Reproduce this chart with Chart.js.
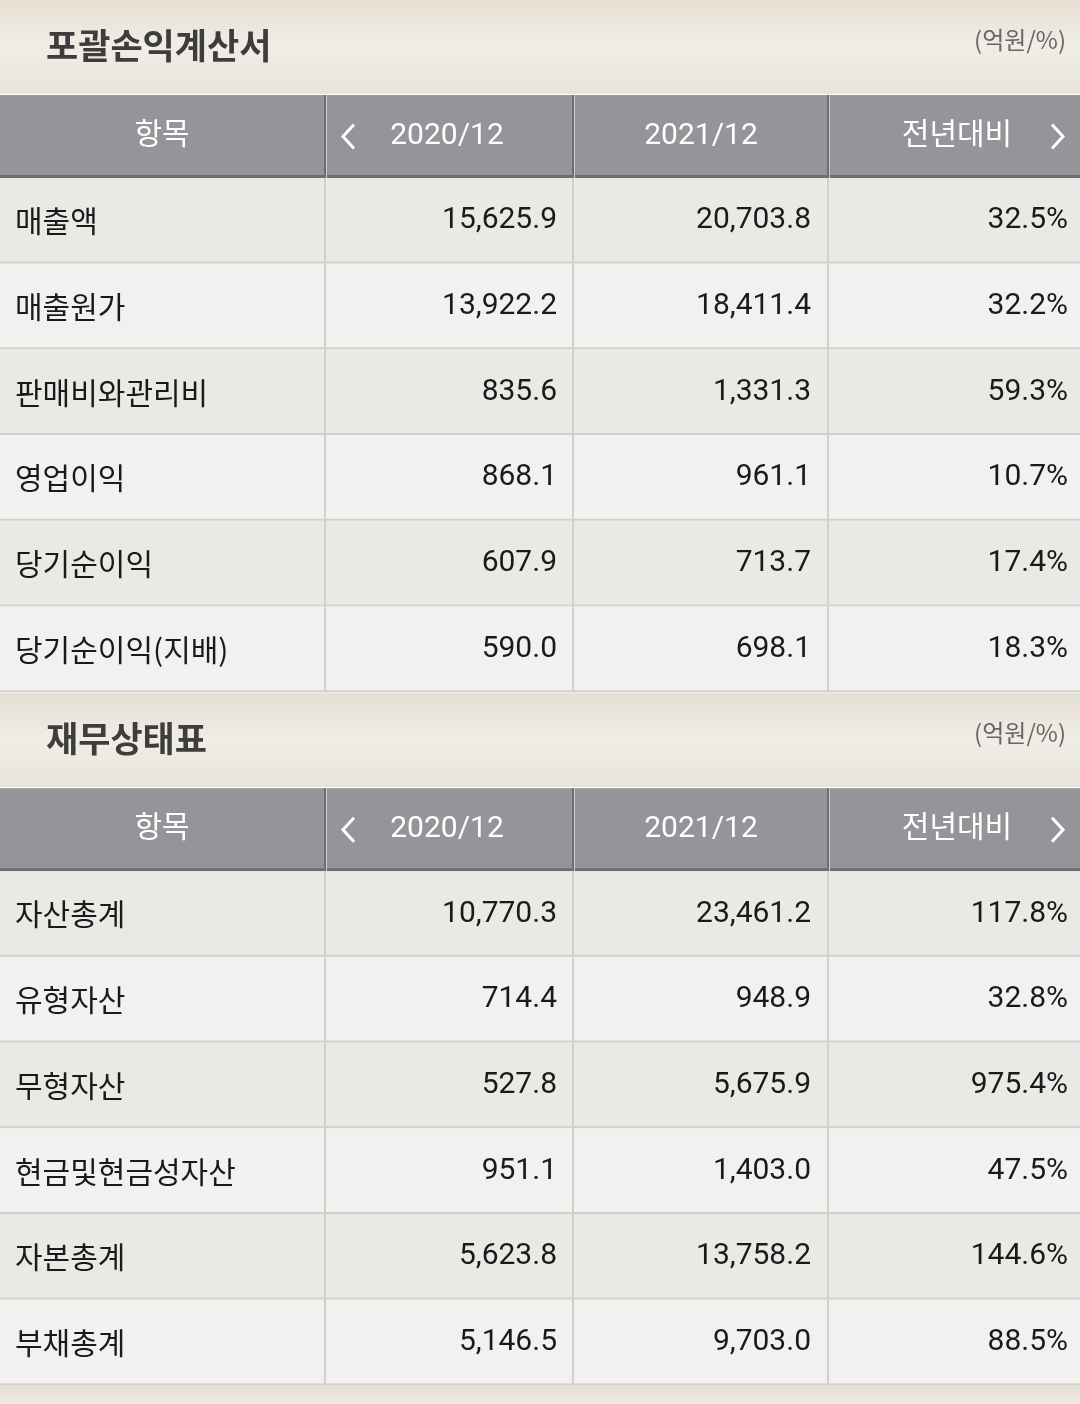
<!DOCTYPE html>
<html>
<head>
<meta charset="utf-8">
<script src="https://cdn.jsdelivr.net/npm/chart.js@4.4.1/dist/chart.umd.min.js"></script>
<style>
  html, body { margin: 0; padding: 0; background: #f2f1ef; }
  #wrap { width: 1080px; height: 1404px; }
</style>
</head>
<body>
<div id="wrap"><canvas id="tableChart" width="1080" height="1404"></canvas></div>
<script>
// 포괄손익계산서
const incomeTitle = '포괄손익계산서';
const incomeItems = ['매출액', '매출원가', '판매비와관리비', '영업이익', '당기순이익', '당기순이익(지배)'];
const income2020 = ['15,625.9', '13,922.2', '835.6', '868.1', '607.9', '590.0'];
const income2021 = ['20,703.8', '18,411.4', '1,331.3', '961.1', '713.7', '698.1'];
const incomeChange = ['32.5%', '32.2%', '59.3%', '10.7%', '17.4%', '18.3%'];

// 재무상태표
const balanceTitle = '재무상태표';
const balanceItems = ['자산총계', '유형자산', '무형자산', '현금및현금성자산', '자본총계', '부채총계'];
const balance2020 = ['10,770.3', '714.4', '527.8', '951.1', '5,623.8', '5,146.5'];
const balance2021 = ['23,461.2', '948.9', '5,675.9', '1,403.0', '13,758.2', '9,703.0'];
const balanceChange = ['117.8%', '32.8%', '975.4%', '47.5%', '144.6%', '88.5%'];

const headers = ['항목', '2020/12', '2021/12', '전년대비'];
const unitLabel = '(억원/%)';

const FONT = "Roboto, 'Noto Sans CJK KR', sans-serif";
const KFONT = "'Noto Sans CJK KR', Roboto, sans-serif";
const colEdges = [0, 326, 574, 829, 1080];
const TITLE_H = 94, HEAD_H = 83, ROW_H = 85.7;

function drawSection(ctx, sx, sy, top, title, items, a, b, c) {
  const X = v => sx.getPixelForValue(v);
  const Y = v => sy.getPixelForValue(v);
  // title band
  let g = ctx.createLinearGradient(0, Y(top), 0, Y(top + TITLE_H));
  g.addColorStop(0, '#e6dfd3');
  g.addColorStop(0.5, '#f1ede6');
  g.addColorStop(1, '#e9e3d9');
  ctx.fillStyle = g;
  ctx.fillRect(X(0), Y(top), X(1080) - X(0), Y(top + TITLE_H) - Y(top));
  ctx.fillStyle = '#3d3d3d';
  ctx.font = 'bold 35px ' + KFONT;
  ctx.textBaseline = 'middle';
  ctx.textAlign = 'left';
  ctx.fillText(title, X(46), Y(top + 46));
  ctx.fillStyle = '#666';
  ctx.font = '24px ' + KFONT;
  ctx.textAlign = 'right';
  ctx.fillText(unitLabel, X(1066), Y(top + 40));

  // header
  const hTop = top + TITLE_H + 1;
  ctx.fillStyle = '#ffffff';
  ctx.fillRect(X(0), Y(hTop - 1), X(1080), 1);
  ctx.fillStyle = '#939598';
  ctx.fillRect(X(0), Y(hTop), X(1080) - X(0), Y(hTop + HEAD_H) - Y(hTop));
  ctx.fillStyle = '#6e6f71';
  ctx.fillRect(X(0), Y(hTop + HEAD_H - 3), X(1080) - X(0), 3);
  for (let i = 1; i < 4; i++) {
    ctx.fillStyle = '#6e6f71';
    ctx.fillRect(X(colEdges[i]) - 2, Y(hTop), 2, HEAD_H);
    ctx.fillStyle = '#c8c9cb';
    ctx.fillRect(X(colEdges[i]), Y(hTop), 1, HEAD_H);
  }
  ctx.fillStyle = '#ffffff';
  ctx.font = '30px ' + FONT;
  ctx.textAlign = 'center';
  const hy = Y(hTop + HEAD_H / 2);
  ctx.fillText(headers[0], X(162), hy);
  ctx.fillText(headers[1], X(447), hy);
  ctx.fillText(headers[2], X(701), hy);
  ctx.fillText(headers[3], X(957), hy);
  ctx.strokeStyle = '#ffffff';
  ctx.lineWidth = 3;
  ctx.beginPath();
  ctx.moveTo(X(354), hy - 12); ctx.lineTo(X(343), hy); ctx.lineTo(X(354), hy + 12);
  ctx.moveTo(X(1052), hy - 12); ctx.lineTo(X(1063), hy); ctx.lineTo(X(1052), hy + 12);
  ctx.stroke();

  // rows
  const rTop = hTop + HEAD_H;
  items.forEach((name, i) => {
    const y0 = rTop + i * ROW_H;
    ctx.fillStyle = i % 2 === 0 ? '#ebe9e5' : '#f2f1ef';
    ctx.fillRect(X(0), Y(y0), X(1080) - X(0), Y(y0 + ROW_H) - Y(y0));
    ctx.fillStyle = '#d2d0cc';
    ctx.fillRect(X(0), Y(y0 + ROW_H) - 2, X(1080), 2);
    for (let k = 1; k < 4; k++) {
      ctx.fillStyle = '#d2d0cc';
      ctx.fillRect(X(colEdges[k]) - 2, Y(y0), 2, ROW_H);
    }
    const cy = Y(y0 + ROW_H / 2);
    ctx.fillStyle = '#1a1a1a';
    ctx.font = '30px ' + KFONT;
    ctx.textAlign = 'left';
    ctx.fillText(name, X(15), cy);
    ctx.font = '30px ' + FONT;
    ctx.textAlign = 'right';
    ctx.fillText(a[i], X(557), cy);
    ctx.fillText(b[i], X(811), cy);
    ctx.fillText(c[i], X(1068), cy);
  });
  return rTop + items.length * ROW_H;
}

const tablePlugin = {
  id: 'tablePlugin',
  afterDraw(chart) {
    const ctx = chart.ctx, sx = chart.scales.x, sy = chart.scales.y;
    ctx.save();
    const end1 = drawSection(ctx, sx, sy, 0, incomeTitle, incomeItems, income2020, income2021, incomeChange);
    const end2 = drawSection(ctx, sx, sy, end1 + 1, balanceTitle, balanceItems, balance2020, balance2021, balanceChange);
    const g = ctx.createLinearGradient(0, sy.getPixelForValue(end2), 0, sy.getPixelForValue(1404));
    g.addColorStop(0, '#e6dfd3');
    g.addColorStop(1, '#efebe4');
    ctx.fillStyle = g;
    ctx.fillRect(0, sy.getPixelForValue(end2), 1080, sy.getPixelForValue(1404) - sy.getPixelForValue(end2));
    ctx.restore();
  }
};

new Chart(document.getElementById('tableChart').getContext('2d'), {
  type: 'scatter',
  data: { datasets: [{ data: [] }] },
  options: {
    responsive: false,
    animation: false,
    layout: { padding: 0 },
    plugins: { legend: { display: false }, tooltip: { enabled: false } },
    scales: {
      x: { type: 'linear', min: 0, max: 1080, display: false },
      y: { type: 'linear', min: 0, max: 1404, reverse: true, display: false }
    }
  },
  plugins: [tablePlugin]
});
</script>
</body>
</html>
